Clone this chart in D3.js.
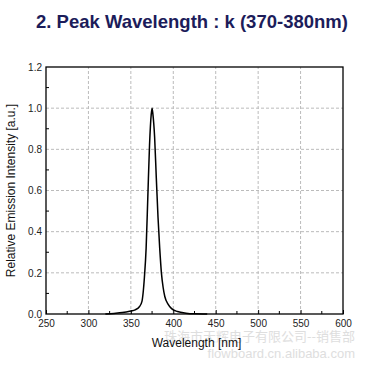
<!DOCTYPE html>
<html><head><meta charset="utf-8">
<script src="https://cdn.jsdelivr.net/npm/d3@7"></script>
<style>body{margin:0;background:#fff}svg{display:block}</style>
</head><body>
<script>
const wavelengths = [320,330,340,350,355,360,363,366,368,370,372,374,375,376,378,380,382,384,386,388,390,394,398,405,415,425,440];
const intensity   = [0,0.003,0.007,0.015,0.02,0.035,0.06,0.18,0.32,0.57,0.82,0.97,1.0,0.97,0.86,0.66,0.47,0.32,0.2,0.13,0.085,0.047,0.026,0.012,0.004,0.001,0];
const xTicks = [250,300,350,400,450,500,550,600];
const yTicks = [0.0,0.2,0.4,0.6,0.8,1.0,1.2];
const title = "2. Peak Wavelength : k (370-380nm)";
const xLabel = "Wavelength [nm]";
const yLabel = "Relative Emission Intensity [a.u.]";

const W=366,H=367;
const m={l:46,r:23,t:67,b:53};
const svg=d3.select("body").append("svg").attr("width",W).attr("height",H);
const x=d3.scaleLinear().domain([250,600]).range([m.l,W-m.r]);
const y=d3.scaleLinear().domain([0,1.2]).range([H-m.b,m.t]);
const font="Liberation Sans, Arial, sans-serif";

// grid
const g=svg.append("g");
g.selectAll(".gx").data(xTicks.slice(1,-1)).join("line")
 .attr("x1",d=>x(d)).attr("x2",d=>x(d)).attr("y1",y(0)).attr("y2",y(1.2))
 .attr("stroke","#bbbbbb").attr("stroke-width",1).attr("stroke-dasharray","3,2");
g.selectAll(".gy").data(yTicks.slice(1,-1)).join("line")
 .attr("x1",x(250)).attr("x2",x(600)).attr("y1",d=>y(d)).attr("y2",d=>y(d))
 .attr("stroke","#bbbbbb").attr("stroke-width",1).attr("stroke-dasharray","3,2");

// watermark
svg.append("text").attr("x",355).attr("y",341).attr("text-anchor","end")
 .attr("font-family","Noto Sans CJK SC").attr("font-size",13).attr("fill","#dedede")
 .text("珠海市天辉电子有限公司--销售部");
svg.append("text").attr("x",355).attr("y",358).attr("text-anchor","end")
 .attr("font-family",font).attr("font-size",13).attr("fill","#dedede")
 .text("flowboard.cn.alibaba.com");

// axes
const xAxis=d3.axisBottom(x).tickValues(xTicks).tickFormat(d3.format("d")).tickSizeInner(-4).tickSizeOuter(0).tickPadding(6);
const gx=svg.append("g").attr("transform",`translate(0,${y(0)})`).call(xAxis);
const yAxis=d3.axisLeft(y).tickValues(yTicks).tickFormat(d3.format(".1f")).tickSizeInner(0).tickSizeOuter(0).tickPadding(4);
const gy=svg.append("g").attr("transform",`translate(${x(250)},0)`).call(yAxis);
[gx,gy].forEach(a=>{a.select(".domain").remove();a.selectAll("text").attr("font-family",font).attr("font-size",10).attr("fill","#222");a.selectAll("line").attr("stroke","#000");});
gx.selectAll("text").attr("dy","0.71em");
// minor ticks
const xMinor=d3.range(275,600,50);
svg.selectAll(".mx").data(xMinor).join("line").attr("x1",d=>x(d)).attr("x2",d=>x(d))
 .attr("y1",y(0)).attr("y2",y(0)-3).attr("stroke","#000");
const yMinor=d3.range(0.1,1.2,0.2);
svg.selectAll(".my").data(yMinor).join("line").attr("x1",x(250)).attr("x2",x(250)+3)
 .attr("y1",d=>y(d)).attr("y2",d=>y(d)).attr("stroke","#000");

// frame
svg.append("rect").attr("x",x(250)).attr("y",y(1.2)).attr("width",x(600)-x(250)).attr("height",y(0)-y(1.2))
 .attr("fill","none").attr("stroke","#000").attr("stroke-width",1.3);

// curve
const data=wavelengths.map((w,i)=>({w,v:intensity[i]}));
svg.append("path").datum(data).attr("fill","none").attr("stroke","#000").attr("stroke-width",1.5)
 .attr("d",d3.line().x(d=>x(d.w)).y(d=>y(d.v)).curve(d3.curveMonotoneX));

// labels
svg.append("text").attr("x",192).attr("y",28).attr("text-anchor","middle")
 .attr("font-family",font).attr("font-weight","bold").attr("font-size",18.5).attr("fill","#1c1c5a").text(title);
svg.append("text").attr("x",(x(250)+x(600))/2+2).attr("y",347).attr("text-anchor","middle")
 .attr("font-family",font).attr("font-size",12).attr("fill","#111").text(xLabel);
svg.append("text").attr("transform",`translate(15,${(y(0)+y(1.2))/2}) rotate(-90)`).attr("text-anchor","middle")
 .attr("font-family",font).attr("font-size",12).attr("fill","#111").text(yLabel);
</script>
</body></html>
